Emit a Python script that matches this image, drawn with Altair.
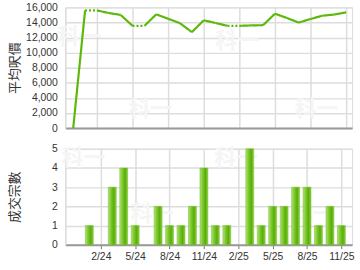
import altair as alt
import pandas as pd

# month labels (index 0 = 12/23)
months = ["12/23", "1/24", "2/24", "3/24", "4/24", "5/24", "6/24", "7/24",
          "8/24", "9/24", "10/24", "11/24", "12/24", "1/25", "2/25", "3/25",
          "4/25", "5/25", "6/25", "7/25", "8/25", "9/25", "10/25", "11/25"]
avg_price = [0, 15600, 15600, 15250, 15000, 13550, 13550, 15080,
             14490, 13900, 12720, 14290, 13930, 13550, 13550, 13610,
             13640, 15160, 14600, 13980, 14460, 14900, 15050, 15340]
deals = [0, 1, 0, 3, 4, 1, 0, 2, 1, 1, 2, 4, 1, 1, 0, 5, 1, 2, 2, 3, 3, 1, 2, 1]
tick_idx = [2, 5, 8, 11, 14, 17, 20, 23]
price_ticks = [0, 2000, 4000, 6000, 8000, 10000, 12000, 14000, 16000]
deal_ticks = [0, 1, 2, 3, 4, 5]
wm_price = [{"i": 0.5, "v": 12000}, {"i": 6.5, "v": 2500},
            {"i": 13.8, "v": 11500}, {"i": 20.5, "v": 2500}]
wm_deal = [{"i": 0.5, "v": 4.5}, {"i": 6.5, "v": 1.6},
           {"i": 13.8, "v": 4.5}, {"i": 20.5, "v": 1.6}]

GREEN = "#5cb80a"
FONT = "Liberation Sans"
CJK = "Noto Sans CJK TC"

# line segments (dotted into months without deals)
rows = []
for k in range(len(months) - 1):
    style = "dot" if deals[k + 1] == 0 else "solid"
    for j in (k, k + 1):
        rows.append({"seg": k, "i": j, "v": avg_price[j], "style": style})
seg_df = pd.DataFrame(rows)
bar_df = pd.DataFrame({"i": list(range(len(months))), "n": deals, "m": months})
bar_df = bar_df[bar_df["n"] > 0]

label_expr = "[" + ",".join("'%s'" % m for m in months) + "][datum.value]"
xscale = alt.Scale(domain=[-0.67, 23.5], nice=False, zero=False)
price_scale = alt.Scale(domain=[0, 16000], nice=False)
deal_scale = alt.Scale(domain=[0, 5], nice=False)

top_x_axis = alt.Axis(values=tick_idx, labels=False, ticks=False, title=None,
                      grid=True, gridColor="#dddddd", gridWidth=1.5,
                      domainColor="#999999", domainWidth=2,
                      minExtent=0, maxExtent=0)
bot_x_axis = alt.Axis(values=tick_idx, labelExpr=label_expr, title=None,
                      grid=True, gridColor="#dddddd", gridWidth=1.5,
                      domainColor="#999999", domainWidth=2,
                      tickColor="#777777", tickSize=4, labelAngle=0,
                      labelFont=FONT, labelFontSize=10.5, labelColor="#333333",
                      labelPadding=3, labelOverlap=False)

def yaxis(title, values):
    return alt.Axis(values=values, title=title, ticks=False, grid=True,
                    gridColor="#dddddd", gridWidth=1.5, domainColor="#dddddd",
                    domainWidth=1.5, labelFont=FONT, labelFontSize=10.5,
                    labelColor="#333333", labelPadding=8, minExtent=38,
                    maxExtent=38, labelOverlap=False, titleFont=CJK,
                    titleFontSize=13, titleFontWeight="normal",
                    titleColor="#333333", titlePadding=6)

price_axis = yaxis("平均呎價", price_ticks)
deal_axis = yaxis("成交宗數", deal_ticks)

wm_top = alt.Chart(pd.DataFrame(wm_price)).mark_text(
    text="科一", font=CJK, fontSize=22, fontWeight="bold", color="#f5f5f5"
).encode(x=alt.X("i:Q", scale=xscale, axis=top_x_axis),
         y=alt.Y("v:Q", scale=price_scale, axis=price_axis))

line = alt.Chart(seg_df).mark_line(color=GREEN, strokeWidth=2.2).encode(
    x=alt.X("i:Q", scale=xscale, axis=top_x_axis),
    y=alt.Y("v:Q", scale=price_scale, axis=price_axis),
    detail="seg:N",
    strokeDash=alt.StrokeDash("style:N", scale=alt.Scale(
        domain=["solid", "dot"], range=[[1, 0], [2, 2]]), legend=None),
)
top = alt.layer(wm_top, line).properties(width=290, height=122)

wm_bot = alt.Chart(pd.DataFrame(wm_deal)).mark_text(
    text="科一", font=CJK, fontSize=22, fontWeight="bold", color="#f5f5f5"
).encode(x=alt.X("i:Q", scale=xscale, axis=bot_x_axis),
         y=alt.Y("v:Q", scale=deal_scale, axis=deal_axis))

grad = alt.Gradient(gradient="linear", x1=0, x2=1, y1=0, y2=0, stops=[
    alt.GradientStop(color="#b4e07e", offset=0),
    alt.GradientStop(color="#7cc82c", offset=0.35),
    alt.GradientStop(color="#58ae06", offset=0.7),
    alt.GradientStop(color="#8fd046", offset=1),
])
bars = alt.Chart(bar_df).mark_bar(size=8, color=grad, stroke="#6abb1c",
                                  strokeWidth=0.5).encode(
    x=alt.X("i:Q", scale=xscale, axis=bot_x_axis),
    y=alt.Y("n:Q", scale=deal_scale, axis=deal_axis),
)
bottom = alt.layer(wm_bot, bars).properties(width=290, height=97)

chart = alt.vconcat(top, bottom, spacing=9).properties(
    padding={"left": 8, "top": 0, "right": 5, "bottom": 0}
).configure_view(stroke=None).configure(background="white")

chart.save("out.html", embed_options={"renderer": "svg", "actions": False})
